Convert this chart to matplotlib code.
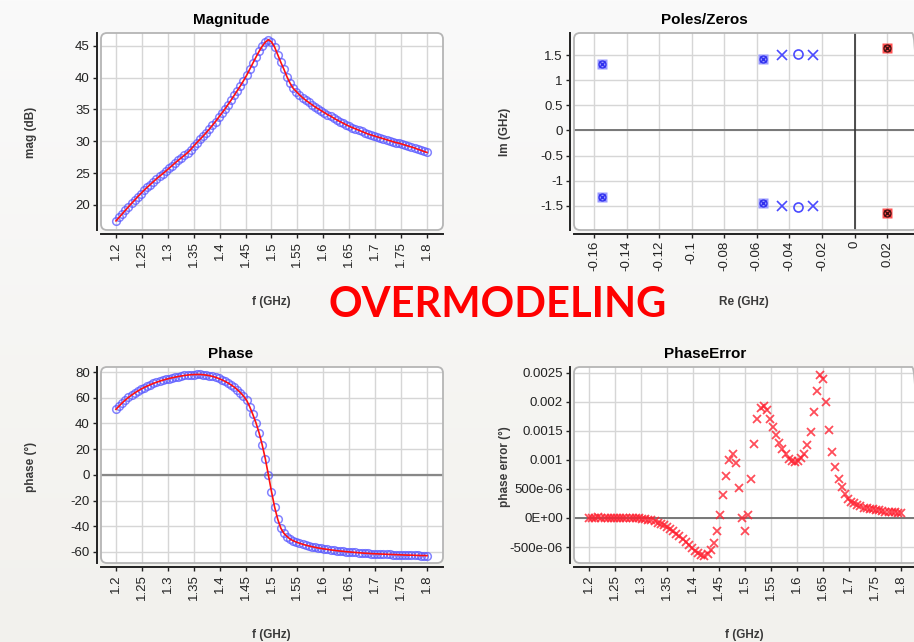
import numpy as np
import matplotlib
matplotlib.use('Agg')
import matplotlib.pyplot as plt
from matplotlib.patches import FancyBboxPatch

plt.rcParams['font.family'] = ['Liberation Sans', 'DejaVu Sans']

W, H = 914, 642

# frequency grid of the sweep (101 points, 1.2 .. 1.8 GHz)
freq = np.round(1.2 + 0.006 * np.arange(101), 3)

mag_db = [
    17.5, 18.05, 18.6, 19.15, 19.7, 20.25, 20.75, 21.3, 21.8, 22.3,
    22.75, 23.2, 23.65, 24.1, 24.5, 24.9, 25.3, 25.75, 26.15, 26.6,
    27.0, 27.4, 27.8, 28.2, 28.7, 29.25, 29.8, 30.3, 30.8, 31.35,
    31.9, 32.5, 33.1, 33.75, 34.4, 35.05, 35.75, 36.45, 37.2, 37.95,
    38.7, 39.5, 40.35, 41.3, 42.25, 43.2, 44.1, 44.9, 45.55, 45.95,
    45.6, 44.8, 43.6, 42.4, 41.3, 40.1, 39.1, 38.3, 37.8, 37.3,
    36.85, 36.45, 36.1, 35.75, 35.4, 35.1, 34.8, 34.5, 34.2, 33.95,
    33.65, 33.35, 33.1, 32.85, 32.6, 32.35, 32.15, 31.95, 31.75, 31.55,
    31.35, 31.15, 31.0, 30.85, 30.7, 30.55, 30.4, 30.25, 30.1, 29.95,
    29.8, 29.7, 29.55, 29.4, 29.25, 29.1, 28.95, 28.75, 28.6, 28.4,
    28.25,
]

phase_deg = [
    51.0, 53.5, 56.0, 58.2, 60.2, 62.0, 63.7, 65.2, 66.6, 67.9,
    69.0, 70.1, 71.1, 72.0, 72.8, 73.6, 74.3, 74.9, 75.5, 76.0,
    76.5, 76.9, 77.3, 77.6, 77.9, 78.0, 78.1, 78.1, 77.9, 77.6,
    77.2, 76.6, 75.9, 75.0, 74.0, 72.8, 71.5, 70.0, 68.3, 66.3,
    64.0, 61.3, 58.0, 53.0, 47.0, 40.5, 32.8, 23.5, 12.7, 0.0,
    -13.0, -25.0, -34.5, -41.5, -45.5, -48.0, -50.0, -51.3, -52.3, -53.2,
    -54.0, -54.7, -55.3, -55.9, -56.4, -56.9, -57.3, -57.7, -58.0, -58.4,
    -58.7, -59.0, -59.3, -59.5, -59.8, -60.0, -60.2, -60.4, -60.6, -60.8,
    -61.0, -61.1, -61.3, -61.4, -61.5, -61.6, -61.7, -61.8, -61.9, -62.0,
    -62.1, -62.2, -62.3, -62.4, -62.5, -62.5, -62.6, -62.7, -62.8, -62.8,
    -62.9,
]

phase_err = [
    0.000004, 0.000008, 0.000006, 0.000009, 0.000007, 0.000006, 0.000005, 0.000005, 0.000004, 0.000004,
    0.000004, 0.000003, 0.000003, 0.000002, 0.000001, 0.0, -0.000004,
    -0.00001, -0.00002, -0.00003, -0.00004, -0.00006, -0.00008, -0.0001, -0.00012, -0.00015,
    -0.00019, -0.00023, -0.00027, -0.00031, -0.00036, -0.00041, -0.00046, -0.00051, -0.00056,
    -0.0006, -0.00063, -0.00065, -0.00062, -0.00055, -0.00043,
    -0.00023, 0.00006, 0.0004, 0.00072, 0.001, 0.0011, 0.00095, 0.00052, 0.0, -0.00023,
    0.00006, 0.00067, 0.00128, 0.0017, 0.0019, 0.00192, 0.00186, 0.00171, 0.00157, 0.00143,
    0.00129, 0.00118, 0.0011, 0.00102, 0.00098, 0.00097, 0.00098, 0.00103, 0.00111, 0.00125,
    0.00148, 0.00182, 0.00219, 0.00247, 0.00239, 0.002, 0.00152, 0.00114, 0.00087, 0.00067,
    0.00053, 0.00042, 0.00033, 0.00028, 0.00025, 0.00022, 0.0002, 0.00018, 0.00017, 0.00016,
    0.00015, 0.00014, 0.00013, 0.00012, 0.00011, 0.00011, 0.0001, 0.0001, 0.00009, 0.00008,
]

# poles / zeros (GHz)
cancel_re = [-0.155, -0.155, -0.056, -0.056]
cancel_im = [1.32, -1.32, 1.43, -1.44]
pole_re = [-0.0445, -0.0445, -0.0253, -0.0253]
pole_im = [1.50, -1.50, 1.50, -1.50]
zero_re = [-0.0345, -0.0345]
zero_im = [1.52, -1.52]
unstable_re = [0.02, 0.02]
unstable_im = [1.64, -1.64]

f_ticks = [1.2, 1.25, 1.3, 1.35, 1.4, 1.45, 1.5, 1.55, 1.6, 1.65, 1.7, 1.75, 1.8]
re_ticks = [-0.16, -0.14, -0.12, -0.1, -0.08, -0.06, -0.04, -0.02, 0, 0.02]
im_ticks = [-1.5, -1, -0.5, 0, 0.5, 1, 1.5]
mag_ticks = [20, 25, 30, 35, 40, 45]
phase_ticks = [-60, -40, -20, 0, 20, 40, 60, 80]
err_ticks = [-0.0005, 0, 0.0005, 0.001, 0.0015, 0.002, 0.0025]
err_labels = ['-500e-06', '0E+00', '500e-06', '0.001', '0.0015', '0.002', '0.0025']


def fx(px):
    return px / W


def fy(py):
    return 1 - py / H


def make_panel(fig, l, t, r, b, xlim, ylim, xticks, yticks, ylabels=None):
    ax = fig.add_axes([fx(l), fy(b), fx(r - l), (b - t) / H])
    ax.set_xlim(xlim)
    ax.set_ylim(ylim)
    ax.set_xticks(xticks)
    ax.set_xticklabels(['%g' % v for v in xticks])
    ax.set_yticks(yticks)
    ax.set_yticklabels(ylabels if ylabels else ['%g' % v for v in yticks])
    ax.patch.set_visible(False)
    ax.grid(True, color='#d6d6d6', lw=1)
    ax.set_axisbelow(True)
    for s in ['top', 'right']:
        ax.spines[s].set_visible(False)
    for s in ['left', 'bottom']:
        ax.spines[s].set_position(('outward', 3))
        ax.spines[s].set_color('#222222')
        ax.spines[s].set_linewidth(1.4)
    ax.tick_params(direction='out', length=3, width=1, color='#222222',
                   labelsize=9.5, labelcolor='#222222', pad=2)
    ax.tick_params(axis='x', labelrotation=90)
    wpx, hpx = r - l, b - t
    bg = FancyBboxPatch((0, 0), 1, 1, boxstyle='round,pad=0,rounding_size=%f' % (6 / wpx),
                        mutation_aspect=wpx / hpx, transform=ax.transAxes,
                        fc='white', ec='none', zorder=0.1, clip_on=False)
    ax.add_patch(bg)
    border = FancyBboxPatch((0, 0), 1, 1, boxstyle='round,pad=0,rounding_size=%f' % (6 / wpx),
                            mutation_aspect=wpx / hpx, transform=ax.transAxes,
                            fc='none', ec='#b5b5b5', lw=1.3, zorder=5, clip_on=False)
    ax.add_patch(border)
    return ax


def main():
    fig = plt.figure(figsize=(W / 100, H / 100), dpi=100)

    # soft background gradient
    bg = fig.add_axes([0, 0, 1, 1], zorder=-10)
    grad = np.linspace(0, 1, 256).reshape(-1, 1)
    cols = np.array([250, 250, 250]) * (1 - grad[..., None]) + np.array([242, 241, 237]) * grad[..., None]
    bg.imshow(cols.astype(np.uint8), aspect='auto', extent=[0, 1, 0, 1])
    bg.axis('off')

    line_kw = dict(color='#ff1010', lw=1.2, zorder=4)
    circ_kw = dict(ls='none', marker='o', ms=5.5, mfc='none', mec='#5a5aff', mew=1.1, alpha=0.75, zorder=3)

    # Magnitude
    ax1 = make_panel(fig, 101, 33, 443, 230, (1.1711, 1.8309), (16.07, 47.0), f_ticks, mag_ticks)
    ax1.plot(freq, mag_db, **circ_kw)
    ax1.plot(freq, mag_db, **line_kw)

    # Poles / Zeros
    ax2 = make_panel(fig, 574, 33, 918, 230, (-0.1723, 0.039), (-1.98, 1.94), re_ticks, im_ticks)
    ax2.axhline(0, color='#777777', lw=1.4, zorder=1)
    ax2.axvline(0, color='#333333', lw=1.2, zorder=1)
    ax2.plot(cancel_re, cancel_im, ls='none', marker='s', ms=6.5, mfc='#9a9aff', mec='none', zorder=3)
    ax2.plot(cancel_re, cancel_im, ls='none', marker='x', ms=5, mec='#3030ee', mew=1.0, zorder=4)
    ax2.plot(cancel_re, cancel_im, ls='none', marker='o', ms=5, mfc='none', mec='#3030ee', mew=0.9, zorder=4)
    ax2.plot(pole_re, pole_im, ls='none', marker='x', ms=6.5, mec='#4a4aff', mew=1.2, zorder=4)
    ax2.plot(zero_re, zero_im, ls='none', marker='o', ms=6.5, mfc='none', mec='#4a4aff', mew=1.2, zorder=4)
    ax2.plot(unstable_re, unstable_im, ls='none', marker='s', ms=6.5, mfc='#ff5050', mec='none', zorder=3)
    ax2.plot(unstable_re, unstable_im, ls='none', marker='x', ms=5, mec='#401010', mew=1.0, zorder=4)
    ax2.plot(unstable_re, unstable_im, ls='none', marker='o', ms=5, mfc='none', mec='#401010', mew=0.9, zorder=4)

    # Phase
    ax3 = make_panel(fig, 101, 367, 443, 563, (1.1711, 1.8309), (-68.6, 83.9), f_ticks, phase_ticks)
    ax3.axhline(0, color='#888888', lw=1.6, zorder=1)
    ax3.plot(freq, phase_deg, **circ_kw)
    ax3.plot(freq, phase_deg, **line_kw)

    # PhaseError
    ax4 = make_panel(fig, 574, 367, 918, 563, (1.1712, 1.8327), (-0.000775, 0.0026),
                     f_ticks, err_ticks, err_labels)
    ax4.axhline(0, color='#777777', lw=1.4, zorder=1)
    ax4.plot(freq, phase_err, ls='none', marker='x', ms=6, mec='#ff2030', mew=1.3, alpha=0.8, zorder=3)

    title_kw = dict(ha='center', va='center', fontsize=11, fontweight='bold', color='black')
    fig.text(fx(231), fy(20), 'Magnitude', **title_kw)
    fig.text(fx(704), fy(20), 'Poles/Zeros', **title_kw)
    fig.text(fx(231), fy(354), 'Phase', **title_kw)
    fig.text(fx(705), fy(354), 'PhaseError', **title_kw)

    lab_kw = dict(ha='center', va='center', fontsize=8.5, fontweight='bold', color='#3a3a3a')
    fig.text(fx(31), fy(132), 'mag (dB)', rotation=90, **lab_kw)
    fig.text(fx(505), fy(132), 'Im (GHz)', rotation=90, **lab_kw)
    fig.text(fx(31), fy(467), 'phase (°)', rotation=90, **lab_kw)
    fig.text(fx(505), fy(467), 'phase error (°)', rotation=90, **lab_kw)
    fig.text(fx(271), fy(302), 'f (GHz)', **lab_kw)
    fig.text(fx(744), fy(302), 'Re (GHz)', **lab_kw)
    fig.text(fx(271), fy(635), 'f (GHz)', **lab_kw)
    fig.text(fx(744), fy(635), 'f (GHz)', **lab_kw)

    fig.text(fx(498), fy(305), 'OVERMODELING', ha='center', va='center', fontsize=30,
             fontweight='bold', color='#ff0000', family=['Lato', 'Liberation Sans'])

    fig.savefig('out.png', dpi=100)


if __name__ == '__main__':
    main()
